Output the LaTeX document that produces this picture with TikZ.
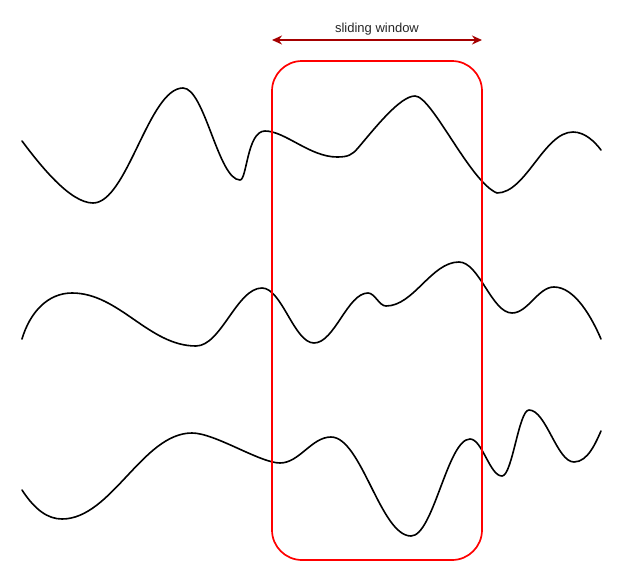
\documentclass[tikz,border=0pt]{standalone}
\usepackage{fontspec}
\setmainfont{Liberation Sans}
\usetikzlibrary{arrows.meta,calc}
\definecolor{winred}{HTML}{A50000}
\tikzset{
  signal/.style={line width=1.6pt, black, line cap=round, line join=round},
  windowbox/.style={draw=red, line width=1.7pt, rounded corners=30pt},
  span/.style={draw=winred, line width=1.6pt, {Stealth[length=10pt,width=9pt]}-{Stealth[length=10pt,width=9pt]}},
  hs/.style={to path={let \p1=(\tikztostart), \p2=(\tikztotarget), \n1={0.38*(\x2-\x1)} in
     .. controls ($(\p1)+(\n1,0pt)$) and ($(\p2)-(\n1,0pt)$) .. (\p2)}}
}
\begin{document}
\begin{tikzpicture}[x=1pt,y=-1pt]
\useasboundingbox (0,0) rectangle (622,581);
% signal 1
\draw[signal] (22,141) .. controls (40,165) and (70,203) .. (93,203)
  to[hs] (183,88)
  to[hs] (240,180)
  .. controls (247,180) and (247,131) .. (265,131)
  .. controls (285,131) and (310,157) .. (337,157)
  .. controls (348,157) and (352,155) .. (358,148)
  .. controls (375,128) and (400,96) .. (415,96)
  .. controls (432,96) and (470,182) .. (497,193)
  to[hs] (573,132)
  .. controls (585,132) and (595,142) .. (601,150);
% signal 2
\draw[signal] (22,339) .. controls (30,312) and (48,293) .. (72,293)
  to[hs] (196,346)
  to[hs] (262,288)
  to[hs] (314,343)
  to[hs] (368,293)
  to[hs] (386,306)
  to[hs] (459,262)
  to[hs] (512,313)
  to[hs] (554,287)
  .. controls (575,287) and (592,318) .. (601,339);
% signal 3
\draw[signal] (22,490) .. controls (35,510) and (48,519) .. (62,519)
  to[hs] (192,433)
  .. controls (215,433) and (260,463) .. (280,463)
  to[hs] (331,437)
  to[hs] (411,536)
  to[hs] (470,439)
  to[hs] (502,476)
  to[hs] (529,410)
  to[hs] (574,462)
  .. controls (588,462) and (596,442) .. (601,431);
% sliding window
\draw[windowbox] (272,61) rectangle (482,560);
\coordinate (wl) at (272,40);
\coordinate (wr) at (482,40);
\draw[span] (wl) -- (wr);
\node[font=\fontsize{13}{15}\selectfont, text=black!85] (lbl) at (377,29) {sliding window};
\end{tikzpicture}
\end{document}
